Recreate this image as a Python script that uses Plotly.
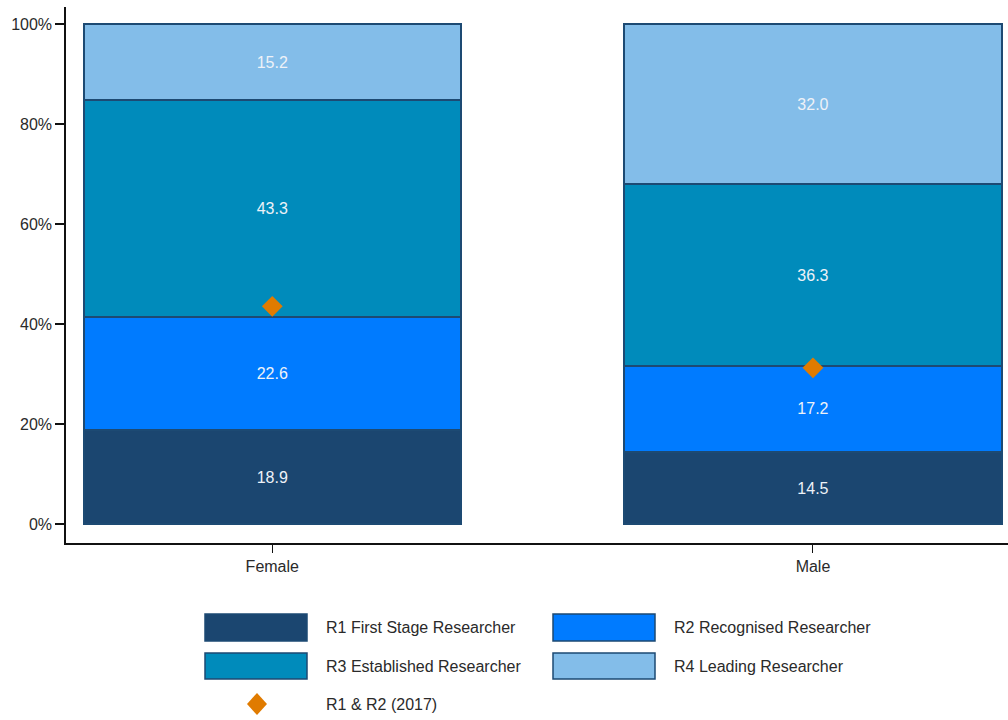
import plotly.graph_objects as go

categories = ["Female", "Male"]
r1 = [18.9, 14.5]
r2 = [22.6, 17.2]
r3 = [43.3, 36.3]
r4 = [15.2, 32.0]
r1r2_2017 = [43.6, 31.3]
y_tickvals = [0, 20, 40, 60, 80, 100]
y_ticktext = ["0%", "20%", "40%", "60%", "80%", "100%"]

series_names = ["R1 First Stage Researcher", "R2 Recognised Researcher",
                "R3 Established Researcher", "R4 Leading Researcher"]
series_values = [r1, r2, r3, r4]
series_colors = ["#1b4670", "#007bff", "#008bbb", "#83bde9"]
diamond_name = "R1 & R2 (2017)"
diamond_color = "#e07b00"
edge_color = "#1d4a73"
FONT = "Liberation Sans, Arial, sans-serif"
FS = 16
TXT = "#2a2a2a"

W, H = 1008, 720
ML, MR, MT, MB = 66, 0, 7, 177
PW, PH = W - ML - MR, H - MT - MB

def px(x):
    return (x - ML) / PW

def py(y):
    return (H - MB - y) / PH

fig = go.Figure()
for name, vals, col in zip(series_names, series_values, series_colors):
    fig.add_trace(go.Bar(
        x=categories, y=vals, name=name,
        marker=dict(color=col, line=dict(color=edge_color, width=2)),
        text=vals, texttemplate="%{y:.1f}", textposition="inside",
        insidetextanchor="middle", textangle=0,
        textfont=dict(color="#eef2f8", size=FS, family=FONT),
        showlegend=False,
    ))

fig.add_trace(go.Scatter(
    x=categories, y=r1r2_2017, name=diamond_name, mode="markers",
    marker=dict(symbol="diamond", size=16, color=diamond_color, line=dict(width=0)),
    showlegend=False,
))

shapes = []
annotations = []
legend_items = [
    (series_names[0], series_colors[0], 205, 614, 307, 641, 324),
    (series_names[1], series_colors[1], 553, 614, 655, 641, 672),
    (series_names[2], series_colors[2], 205, 653, 307, 679, 324),
    (series_names[3], series_colors[3], 553, 653, 655, 679, 672),
]
for name, col, x0, y0, x1, y1, tx in legend_items:
    shapes.append(dict(type="rect", xref="paper", yref="paper",
                       x0=px(x0), x1=px(x1), y0=py(y1), y1=py(y0),
                       fillcolor=col, line=dict(color=edge_color, width=1.5)))
    annotations.append(dict(xref="paper", yref="paper", x=px(tx), y=py((y0 + y1) / 2),
                            text=name, showarrow=False, xanchor="left", yanchor="middle",
                            font=dict(size=FS, color=TXT, family=FONT)))

cx, cy, hw, hh = 257, 704, 10, 11
path = (f"M {px(cx)} {py(cy - hh)} L {px(cx + hw)} {py(cy)} "
        f"L {px(cx)} {py(cy + hh)} L {px(cx - hw)} {py(cy)} Z")
shapes.append(dict(type="path", xref="paper", yref="paper", path=path,
                   fillcolor=diamond_color, line=dict(width=0)))
annotations.append(dict(xref="paper", yref="paper", x=px(324), y=py(704),
                        text=diamond_name, showarrow=False, xanchor="left", yanchor="middle",
                        font=dict(size=FS, color=TXT, family=FONT)))

fig.update_layout(
    width=W, height=H,
    margin=dict(l=ML, r=MR, t=MT, b=MB, pad=0),
    barmode="stack", bargap=0.302,
    plot_bgcolor="white", paper_bgcolor="white",
    font=dict(family=FONT, size=FS, color=TXT),
    shapes=shapes, annotations=annotations,
    showlegend=False,
    xaxis=dict(range=[-0.3815, 1.3607], showline=True, linecolor="#111111", linewidth=1.5,
               ticks="outside", ticklen=8, tickcolor="#111111", tickwidth=1,
               showgrid=False, zeroline=False, tickfont=dict(size=FS, color=TXT)),
    yaxis=dict(range=[-3.7, 103.4], showline=True, linecolor="#111111", linewidth=1.5,
               ticks="outside", ticklen=9, tickcolor="#111111", tickwidth=1.5,
               tickmode="array", tickvals=y_tickvals, ticktext=y_ticktext,
               showgrid=False, zeroline=False, tickfont=dict(size=FS, color=TXT)),
)

fig.write_html("out.html", config={"displayModeBar": False},
               post_script="document.body.style.margin='0px';document.body.style.overflow='hidden';")
